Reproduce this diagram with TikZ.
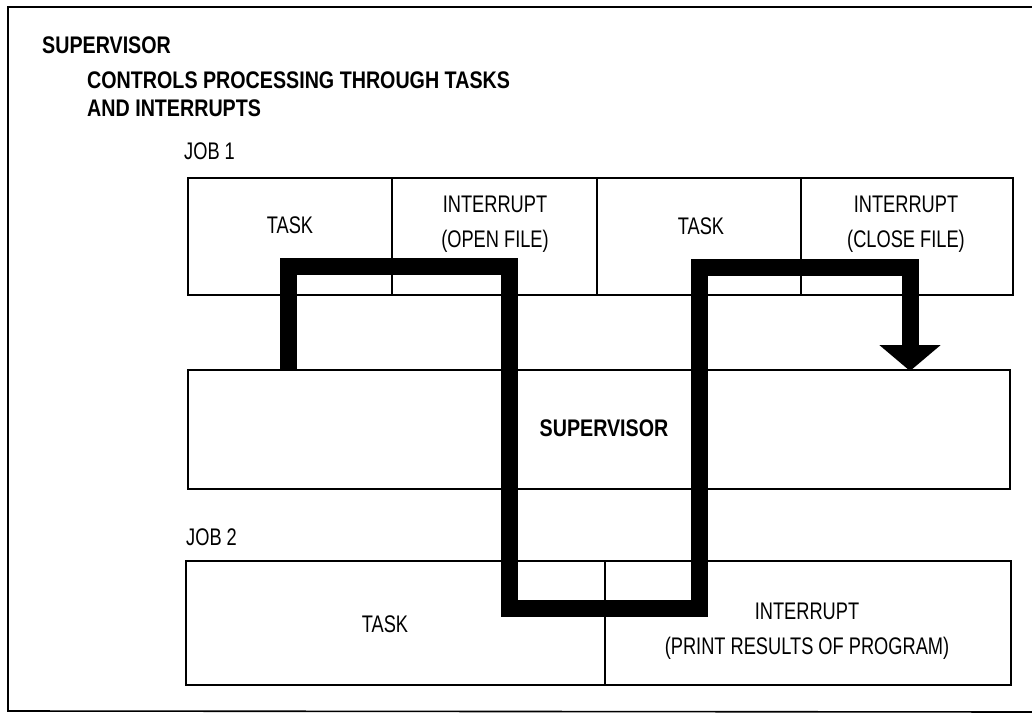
\documentclass[tikz,border=0pt]{standalone}
\usepackage{fontspec}
\setmainfont{Liberation Sans}
\newfontfamily\regf[FakeStretch=0.76]{Liberation Sans}
\newfontfamily\boldf[FakeStretch=0.82]{Liberation Sans}
\usetikzlibrary{arrows.meta}
\begin{document}
\begin{tikzpicture}[x=1pt,y=-1pt,
  cell/.style={draw, line width=1.6pt, inner sep=0pt, outer sep=0pt},
  reg/.style={inner sep=0pt, align=center, font={\regf\fontsize{24}{35}\selectfont}},
  bld/.style={inner sep=0pt, align=left, font={\boldf\bfseries\fontsize{24}{28}\selectfont}},
  flow/.style={line width=17pt, line join=miter, line cap=butt}
]
\useasboundingbox (0,0) rectangle (1032,714);
% outer frame
\coordinate (fTR) at (1032,7);
\coordinate (fTL) at (8,7);
\coordinate (fBL) at (8,711);
\coordinate (fBR) at (1032,712);
\draw[line width=1.6pt] (fTR) -- (fTL) -- (fBL) -- (fBR);

% headings
\node[bld, anchor=west] (h1) at (42,45) {SUPERVISOR};
\node[bld, anchor=west] (h2) at (87,80) {CONTROLS PROCESSING THROUGH TASKS};
\node[bld, anchor=west] (h3) at (87,108) {AND INTERRUPTS};
\node[reg, anchor=west] (job1) at (184,151) {JOB 1};
\node[reg, anchor=west] (job2) at (186,537) {JOB 2};

% job 1 cells
\node[cell, minimum width=204pt, minimum height=117pt] (t1) at (290,236.5) {};
\node[cell, minimum width=205pt, minimum height=117pt] (i1) at (494.5,236.5) {};
\node[cell, minimum width=204pt, minimum height=117pt] (t2) at (699,236.5) {};
\node[cell, minimum width=212pt, minimum height=117pt] (i2) at (907,236.5) {};
% supervisor
\node[cell, minimum width=822pt, minimum height=119pt] (sup) at (599,429.5) {};
% job 2 cells
\node[cell, minimum width=419pt, minimum height=124pt] (j2t) at (395.5,623) {};
\node[cell, minimum width=406pt, minimum height=124pt] (j2i) at (808,623) {};

% cell texts
\node[reg] (t1x) at (290,225) {TASK};
\node[reg] (i1x) at (495,224.5) {INTERRUPT\\(OPEN FILE)};
\node[reg] (t2x) at (701,226) {TASK};
\node[reg] (i2x) at (906,224) {INTERRUPT\\(CLOSE FILE)};
\node[bld] (supx) at (604,428) {SUPERVISOR};
\node[reg] (j2tx) at (385,624) {TASK};
\node[reg] (j2ix) at (807,631) {INTERRUPT\\(PRINT RESULTS OF PROGRAM)};

% flow of control
\coordinate (p0) at (288,370);
\coordinate (p1) at (288,266);
\coordinate (p2) at (509,266);
\coordinate (p3) at (509,608);
\coordinate (p4) at (699,608);
\coordinate (p5) at (699,267);
\coordinate (p6) at (910,267);
\coordinate (p7) at (910,371);
\draw[flow, -{Triangle[length=26pt 0 0, width=60pt 0 0]}]
  (p0) -- (p1) -- (p2) -- (p3) -- (p4) -- (p5) -- (p6) -- (p7);
\end{tikzpicture}
\end{document}
